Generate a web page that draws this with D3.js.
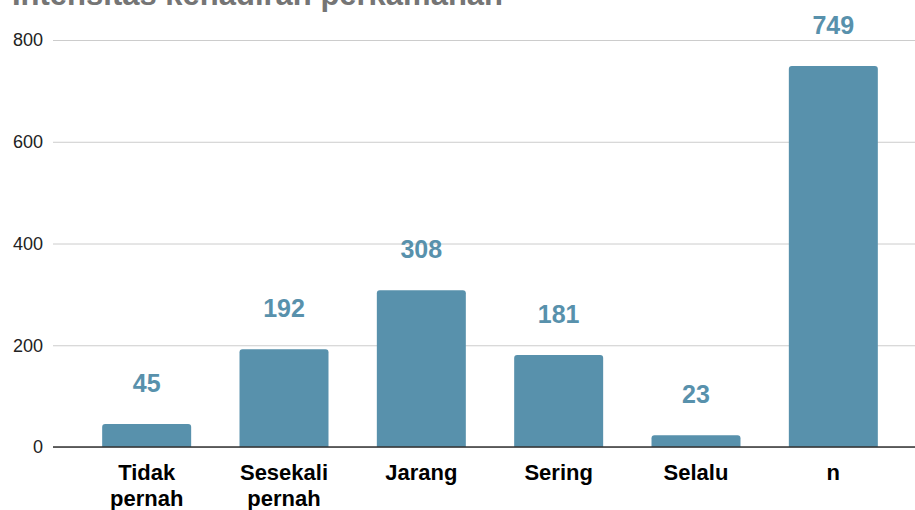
<!DOCTYPE html>
<html>
<head>
<meta charset="utf-8">
<script src="https://cdn.jsdelivr.net/npm/d3@7"></script>
<style>
  body { margin: 0; background: #fff; }
  svg { display: block; font-family: "Liberation Sans", Arial, sans-serif; }
</style>
</head>
<body>
<div id="chart"></div>
<script>
var categories = [["Tidak", "pernah"], ["Sesekali", "pernah"], ["Jarang"], ["Sering"], ["Selalu"], ["n"]];
var values = [45, 192, 308, 181, 23, 749];
var yTicks = [0, 200, 400, 600, 800];
var title = "Intensitas kehadiran perkamahan";

var width = 915, height = 510;
var barColor = "#5891ac";
var left = 53;

var svg = d3.select("#chart").append("svg")
    .attr("width", width)
    .attr("height", height);

var x = d3.scaleBand()
    .domain(d3.range(categories.length))
    .range([78, 902])
    .paddingInner(0.352)
    .paddingOuter(0.176);

var y = d3.scaleLinear()
    .domain([0, 800])
    .range([447, 40]);

// title, cut at the top edge like the original
svg.append("text")
    .attr("x", 12)
    .attr("y", 5)
    .attr("font-size", 31)
    .attr("font-weight", "bold")
    .attr("fill", "#757575")
    .text(title);

// gridlines + y labels
var yAxis = svg.append("g")
    .attr("transform", "translate(" + left + ",0)")
    .call(d3.axisLeft(y).tickValues(yTicks).tickSize(-(width - left)).tickPadding(10));
yAxis.select(".domain").remove();
yAxis.selectAll(".tick line")
    .attr("stroke", "#ccc");
yAxis.selectAll(".tick text")
    .attr("font-size", 18)
    .attr("font-family", "'Liberation Sans', Arial, sans-serif")
    .attr("fill", "#222");

// bars with rounded tops
function barPath(d, i) {
    var x0 = x(i), w = x.bandwidth(), y0 = y(d), y1 = y(0), r = Math.min(3, (y1 - y0));
    return "M" + x0 + "," + y1 +
        "V" + (y0 + r) +
        "Q" + x0 + "," + y0 + " " + (x0 + r) + "," + y0 +
        "H" + (x0 + w - r) +
        "Q" + (x0 + w) + "," + y0 + " " + (x0 + w) + "," + (y0 + r) +
        "V" + y1 + "Z";
}
svg.append("g").selectAll("path")
    .data(values)
    .enter().append("path")
    .attr("d", barPath)
    .attr("fill", barColor);

// baseline over bars
svg.append("line")
    .attr("x1", left).attr("x2", width)
    .attr("y1", y(0)).attr("y2", y(0))
    .attr("stroke", "#333")
    .attr("stroke-width", 1.5);

// value labels
svg.append("g").selectAll("text")
    .data(values)
    .enter().append("text")
    .attr("x", function (d, i) { return x(i) + x.bandwidth() / 2; })
    .attr("y", function (d) { return y(d) - 32; })
    .attr("text-anchor", "middle")
    .attr("font-size", 25)
    .attr("font-weight", "bold")
    .attr("fill", barColor)
    .text(function (d) { return d; });

// category labels
var cats = svg.append("g").selectAll("text")
    .data(categories)
    .enter().append("text")
    .attr("x", function (d, i) { return x(i) + x.bandwidth() / 2; })
    .attr("y", 480)
    .attr("text-anchor", "middle")
    .attr("font-size", 22)
    .attr("font-weight", "bold")
    .attr("fill", "#000");
cats.selectAll("tspan")
    .data(function (d) { return d; })
    .enter().append("tspan")
    .attr("x", function () { return d3.select(this.parentNode).attr("x"); })
    .attr("dy", function (d, j) { return j === 0 ? 0 : 26; })
    .text(function (d) { return d; });
</script>
</body>
</html>
